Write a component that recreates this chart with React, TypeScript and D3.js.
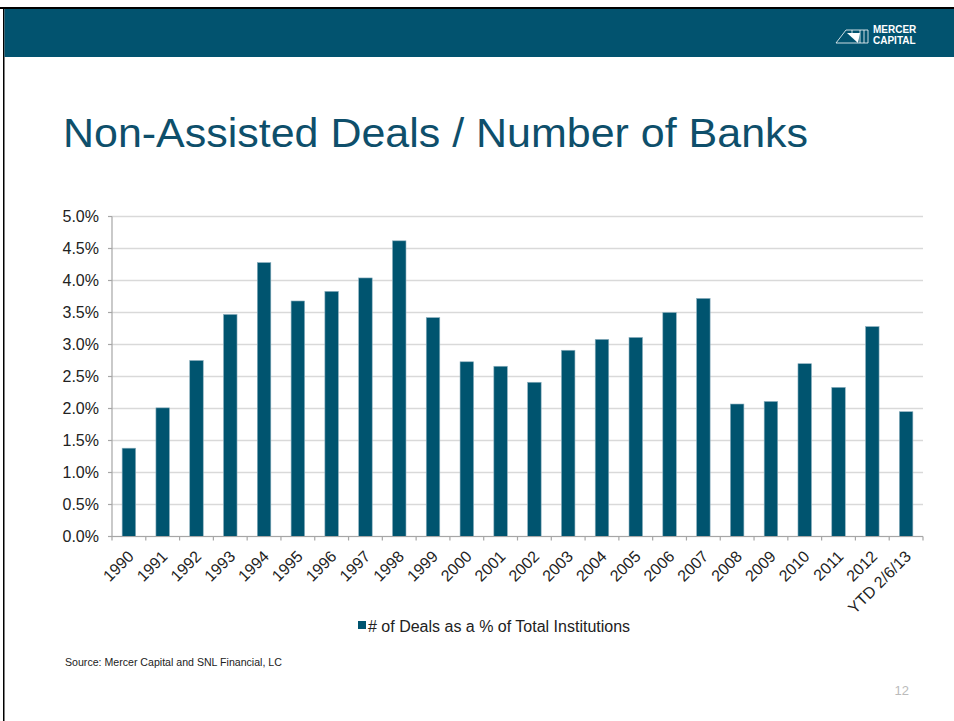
import React from "react";
import * as d3 from "d3";

const categories = ["1990","1991","1992","1993","1994","1995","1996","1997","1998","1999","2000","2001","2002","2003","2004","2005","2006","2007","2008","2009","2010","2011","2012","YTD 2/6/13"];
const dealsPct = [1.38,2.01,2.75,3.47,4.28,3.68,3.83,4.04,4.62,3.42,2.73,2.66,2.41,2.91,3.08,3.11,3.50,3.72,2.07,2.11,2.70,2.33,3.28,1.95];
const yTicks = [0,0.5,1,1.5,2,2.5,3,3.5,4,4.5,5];
const seriesName = "# of Deals as a % of Total Institutions";
const titleText = "Non-Assisted Deals / Number of Banks";
const sourceText = "Source: Mercer Capital and SNL Financial, LC";
const pageNum = "12";

const W = 954, H = 721;
const FONT = "'Liberation Sans', Arial, Helvetica, sans-serif";
const TEAL = "#02536F";

export default function App() {
  const left = 112, right = 923, top = 216.5, bottom = 536.5;
  const x = d3.scaleBand<string>().domain(categories).range([left, right]).paddingInner(0.6).paddingOuter(0.3);
  const xb = d3.scaleBand<string>().domain(categories).range([left, right]);
  const y = d3.scaleLinear().domain([0, 5]).range([bottom, top]);
  const fmt = d3.format(".1f");

  return (
    <svg width={W} height={H} style={{ position: "absolute", left: 0, top: 0, background: "#fff" }} fontFamily={FONT}>
      <rect x={0} y={0} width={W} height={H} fill="#fff" />
      {/* slide frame */}
      <rect x={0} y={7} width={W} height={2} fill="#000" />
      <rect x={3} y={7} width={1.5} height={H - 7} fill="#000" />
      <rect x={4.5} y={9} width={W - 4.5} height={48} fill={TEAL} />
      {/* logo */}
      <g transform="translate(836,30)">
        <polygon points="0,13 10,0 32,0 32,13" fill="none" stroke="#fff" strokeWidth={0.8} />
        <polygon points="11,3 24,3 22,13" fill="#fff" />
        <line x1={16} y1={0} x2={16} y2={3} stroke="#fff" strokeWidth={0.8} />
        <line x1={24} y1={0} x2={24} y2={13} stroke="#fff" strokeWidth={0.8} />
        <line x1={28} y1={0} x2={28} y2={13} stroke="#fff" strokeWidth={0.8} />
      </g>
      <text x={873} y={33} fill="#fff" fontSize={10} fontWeight="bold">MERCER</text>
      <text x={873} y={44} fill="#fff" fontSize={10} fontWeight="bold">CAPITAL</text>

      {/* title */}
      <text x={63} y={147} fill="#0E4F6B" fontSize={40} textLength={745} lengthAdjust="spacingAndGlyphs">{titleText}</text>

      {/* gridlines */}
      {yTicks.map(t => (
        <line key={"g" + t} x1={left} x2={right} y1={y(t)} y2={y(t)} stroke="#D9D9D9" strokeWidth={1.3} />
      ))}
      {/* y axis */}
      <line x1={left} x2={left} y1={top} y2={bottom} stroke="#A6A6A6" strokeWidth={1.2} />
      {yTicks.map(t => (
        <g key={"yt" + t}>
          <line x1={left - 4} x2={left} y1={y(t)} y2={y(t)} stroke="#A6A6A6" strokeWidth={1.2} />
          <text x={99} y={y(t)} dy="0.35em" textAnchor="end" fontSize={16} fill="#222">{fmt(t)}%</text>
        </g>
      ))}
      {/* bars */}
      {categories.map((c, i) => (
        <rect key={"b" + c} x={x(c)} y={y(dealsPct[i])} width={x.bandwidth()} height={bottom - y(dealsPct[i])}
          fill="#00546F" stroke="#8DB0BF" strokeWidth={0.6} />
      ))}
      {/* x axis */}
      <line x1={left} x2={right} y1={bottom} y2={bottom} stroke="#A6A6A6" strokeWidth={1.2} />
      {categories.map(c => (
        <line key={"xt" + c} x1={xb(c)!} x2={xb(c)!} y1={bottom} y2={bottom + 4} stroke="#A6A6A6" strokeWidth={1.2} />
      ))}
      <line x1={right} x2={right} y1={bottom} y2={bottom + 4} stroke="#A6A6A6" strokeWidth={1.2} />
      {categories.map(c => {
        const cx = xb(c)! + xb.bandwidth() / 2 - 2;
        const cy = bottom + 13;
        return (
          <text key={"xl" + c} transform={`translate(${cx},${cy}) rotate(-45)`} textAnchor="end" dy="0.7em" fontSize={16} fill="#222">{c}</text>
        );
      })}

      {/* legend */}
      <rect x={358} y={621} width={8} height={8} fill="#00546F" />
      <text x={368} y={632} fontSize={16} fill="#222">{seriesName}</text>

      {/* source */}
      <text x={65} y={666} fontSize={10.6} fill="#222">{sourceText}</text>
      <text x={909} y={695} textAnchor="end" fontSize={13} fill="#BBBBBB">{pageNum}</text>
    </svg>
  );
}
